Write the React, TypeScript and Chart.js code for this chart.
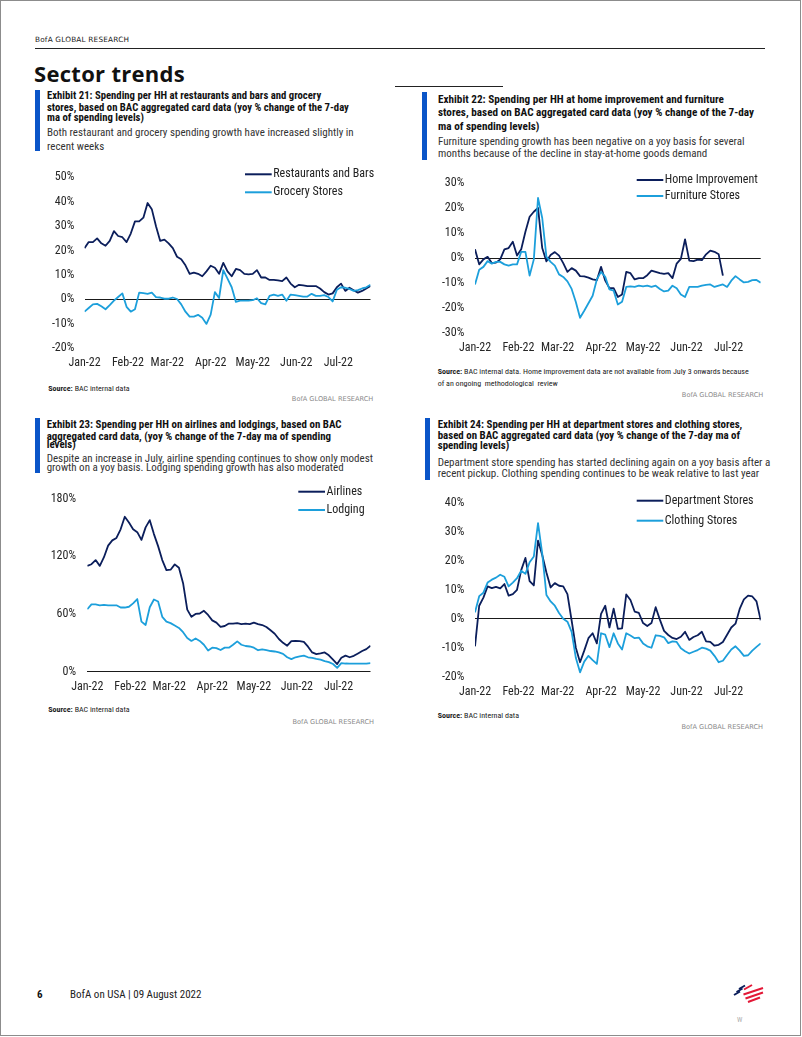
import React, { useEffect, useRef } from 'react';
import { Chart, registerables } from 'chart.js';

Chart.register(...registerables);

const FONT = '"Liberation Sans Narrow", "Roboto Condensed", Roboto, sans-serif';
const WIDE = '"DejaVu Sans", Verdana, sans-serif';
const NAVY = '#0b1e5b';
const LIGHT = '#1c9fdb';
const BAR_BLUE = '#0a55c8';
const TICK_COLOR = '#262626';

// x categories: month tick labels at month starts (day offset from 1 Jan 2022)
const MONTH_LABELS = ['Jan-22', 'Feb-22', 'Mar-22', 'Apr-22', 'May-22', 'Jun-22', 'Jul-22'];
const MONTH_DAYS = [0, 31, 59, 90, 120, 151, 181];

// sample dates (days since 1 Jan 2022, every third day)
const DAYS = [0, 3, 6, 9, 12, 15, 18, 21, 24, 27, 30, 33, 36, 39, 42, 45, 48, 51, 54, 57, 60, 63, 66, 69, 72, 75, 78, 81, 84, 87, 90, 93, 96, 99, 102, 105, 108, 111, 114, 117, 120, 123, 126, 129, 132, 135, 138, 141, 144, 147, 150, 153, 156, 159, 162, 165, 168, 171, 174, 177, 180, 183, 186, 189, 192, 195, 198, 201, 204];

// Exhibit 21
const RESTAURANTS = [21, 23.5, 23.5, 25, 23, 22, 24, 28, 26, 25.5, 23.5, 27, 32, 32, 33.5, 39.5, 37, 30, 24, 24.5, 23, 21, 17.5, 16.5, 14, 10.5, 11, 10.5, 9.5, 11.5, 13.8, 13, 10.5, 15, 11.5, 9.5, 12.5, 12, 10.5, 10.3, 10.5, 12, 9, 9, 8, 8, 7.8, 7.5, 9, 6.5, 5, 6, 5.8, 5.5, 5.5, 5.5, 4.5, 3, 2, 2.5, 5, 6.5, 3.5, 4.8, 3.8, 2.8, 3.5, 4.5, 5.5];
const GROCERY = [-5, -3.5, -2, -1.8, -2.8, -4, -2.3, -0.5, 1, 2.5, -3, -5, -4, 2.8, 2.6, 2.3, 2.8, 1, 0.8, 0.3, 0.3, 0.8, 0.2, -2, -5, -7, -7, -6.3, -7.5, -10, -6.2, 3, 0.6, 12, 8.5, 5, -1, -0.5, -0.5, -0.5, -0.3, 0.5, -1.5, -2, 1.5, 2, 1.5, 2, -0.5, 2, 1.8, 1.5, 1.2, 1.2, 2.3, 1.5, 1.5, 1.8, 1, -0.8, 4, 5, 4.8, 4.3, 3.5, 3.8, 4.5, 5, 6];

// Exhibit 22
const HOME_IMPROVEMENT = [3.5, -2.5, -0.5, 0.5, -2, -1.8, -0.5, 3.5, 4, 6.5, 1, 3.5, 10.5, 16.5, 18.5, 20, 4, -1.3, 1.2, 2.4, 1, -2, -5.5, -4, -5, -7.2, -7.3, -7.8, -8.5, -8.8, -3.5, -9, -12, -12, -15.5, -14.5, -5.5, -6, -8.5, -8, -8, -6.8, -5, -5.5, -6, -6.3, -6, -8, -2.2, -0.3, 7.5, -1, -1.2, -0.6, -0.8, 1.5, 3, 2.5, 1.5, -7];
const FURNITURE = [-10.5, -4.6, -3.5, -1.2, -2.2, -1.5, -1.5, -2.5, -3, -2.5, -2.5, 2.5, 2.5, -7, -0.5, 24, 16, 0.5, -1.5, -3, -6.5, -7.5, -9.3, -12.3, -17.5, -23.8, -21, -18, -15, -8.5, -5.5, -7.5, -12.5, -13, -18.5, -17.4, -11.5, -11.3, -11.5, -11, -11.3, -11, -11.5, -11, -12.3, -13.3, -13, -11, -12, -14.5, -15.5, -11.5, -11.5, -11.5, -11, -10.7, -10.5, -11.5, -11, -10.5, -11.5, -9, -7.2, -8.5, -9.7, -9.5, -8.8, -8.7, -9.8];

// Exhibit 23
const AIRLINES = [110, 111.7, 116, 110, 119, 131, 136.5, 139, 148, 161, 155, 148, 145, 137, 150, 157.5, 143, 130.5, 116, 105.5, 106, 111.5, 108, 92, 64.5, 57, 60, 60.5, 63.3, 59, 53.3, 51, 46.7, 47.5, 50, 50, 50.5, 49.5, 50, 49.5, 51, 49.5, 48.5, 46.5, 43, 39.5, 34, 30, 27, 31.7, 32, 31.7, 31, 26, 20, 18.3, 19, 20, 17, 12.5, 8, 14.5, 16.7, 15, 16.5, 19, 21.5, 23.5, 27];
const LODGING = [65, 70, 70, 69, 69.5, 69, 69, 69, 66.7, 66.7, 67.5, 71, 75.5, 52, 48.5, 67, 75, 73, 57, 52, 50.5, 48, 45.5, 41, 35, 32, 34.5, 32, 28, 22, 25, 24.5, 22.5, 25, 25, 28, 31.5, 28, 26.7, 26.2, 25, 22.3, 23.3, 22.5, 21.5, 21, 20, 18.5, 15, 13, 15, 16, 16.7, 15, 14.3, 13.3, 12.5, 11, 10, 8, 4, 9, 8.5, 8.3, 8.3, 8.3, 8.3, 8.3, 9];

// Exhibit 24
const DEPARTMENT = [-9.5, 4.5, 7.3, 11.2, 10.6, 11, 10.5, 12, 8, 8.5, 10, 16.8, 21, 13, 11.5, 27, 22, 16, 10.8, 12.3, 11.4, 11.2, 8.5, -0.6, -10, -15, -11, -6.7, -5, -8.5, 1.7, 4.5, -3, 3.5, -3.5, -3.3, 8.4, 6.5, 2.5, 2, -1.5, -2.5, -1.5, 4, -0.3, -4.2, -5.6, -6.6, -7, -6.2, -4.5, -7.3, -6.3, -5.7, -4.5, -7.8, -8, -9.3, -9, -8, -5.5, -3, -1.7, 3.4, 6.7, 8, 7.7, 6, -0.5];
const CLOTHING = [2.2, 7.8, 9, 12.5, 13.5, 14.2, 15.2, 14.5, 11.2, 12.5, 14, 16.6, 15.5, 19.5, 21.5, 33, 22.5, 8.2, 6, 4.5, 2, 0, -1, -4.5, -13.5, -18.5, -14.8, -12.8, -14.3, -15.6, -5, -5.5, -9.8, -5, -8.5, -10.6, -5, -5.8, -6.7, -6.5, -8.5, -9.5, -10, -5.7, -5.9, -6.4, -8.4, -7.8, -8, -10.2, -11.2, -12, -11.4, -10.8, -10, -10.3, -11, -12.8, -15, -14.5, -12.5, -10.6, -9.5, -11, -12.8, -12.6, -11, -9.7, -8.5];

type Box = { left: number; top: number; width: number; height: number };
type Area = { left: number; right: number; top: number; bottom: number };
type Series = { label: string; values: number[]; color: string };
type LegendCfg = { x: number; y: number; dy: number; len: number };

const XH = 25;

function LineChart(props: {
  box: Box; area: Area; yMin: number; yMax: number; yStep: number;
  series: Series[]; legend: LegendCfg; yPad: number; xPad: number;
}) {
  const ref = useRef<HTMLCanvasElement>(null);
  useEffect(() => {
    const { box, area, yMin, yMax, yStep, series, legend, yPad, xPad } = props;
    const canvas = ref.current!;
    const legendPlugin = {
      id: 'pageLegend',
      afterDraw(chart: any) {
        const ctx = chart.ctx as CanvasRenderingContext2D;
        ctx.save();
        chart.data.datasets.forEach((ds: any, i: number) => {
          const y = legend.y - box.top + i * legend.dy;
          const x0 = legend.x - box.left;
          ctx.strokeStyle = ds.borderColor;
          ctx.lineWidth = 2;
          ctx.beginPath();
          ctx.moveTo(x0, y);
          ctx.lineTo(x0 + legend.len, y);
          ctx.stroke();
          ctx.fillStyle = '#222';
          ctx.font = `12px ${FONT}`;
          ctx.textBaseline = 'middle';
          ctx.textAlign = 'left';
          ctx.fillText(ds.label, x0 + legend.len + 1.5, y);
        });
        ctx.restore();
      },
    };
    const chart = new Chart(canvas, {
      type: 'line',
      data: {
        datasets: series.map((s, i) => ({
          label: s.label,
          data: s.values.map((v, j) => ({ x: DAYS[j], y: v })),
          borderColor: s.color,
          backgroundColor: s.color,
          borderWidth: 1.8,
          borderJoinStyle: 'round' as const,
          pointRadius: 0,
          tension: 0,
          fill: false,
          order: i === 0 ? 1 : 0,
        })),
      },
      options: {
        responsive: false,
        maintainAspectRatio: false,
        animation: false,
        events: [],
        layout: {
          padding: {
            left: 0,
            top: area.top - box.top,
            right: box.left + box.width - area.right,
            bottom: box.top + box.height - area.bottom - XH,
          },
        },
        plugins: { legend: { display: false }, tooltip: { enabled: false } },
        scales: {
          x: {
            type: 'linear',
            min: 0,
            max: 204,
            afterFit: (s: any) => { s.height = XH; },
            afterBuildTicks: (s: any) => { s.ticks = MONTH_DAYS.map((v) => ({ value: v })); },
            ticks: {
              autoSkip: false,
              maxRotation: 0,
              padding: xPad,
              color: TICK_COLOR,
              font: { family: FONT, size: 12 },
              callback: (v: any) => {
                const i = MONTH_DAYS.indexOf(Number(v));
                return i >= 0 ? MONTH_LABELS[i] : '';
              },
            },
            grid: { display: false, drawTicks: false },
            border: { display: false },
          },
          y: {
            min: yMin,
            max: yMax,
            afterFit: (s: any) => { s.width = area.left - box.left; },
            ticks: {
              stepSize: yStep,
              padding: yPad,
              color: TICK_COLOR,
              font: { family: FONT, size: 12 },
              callback: (v: any) => `${v}%`,
            },
            grid: {
              drawTicks: false,
              lineWidth: 1,
              color: (ctx: any) => (ctx.tick && ctx.tick.value === 0 ? '#1a1a1a' : 'rgba(0,0,0,0)'),
            },
            border: { display: false },
          },
        },
      },
      plugins: [legendPlugin],
    } as any);
    return () => chart.destroy();
  }, []);
  const { box } = props;
  return (
    <canvas
      ref={ref}
      width={box.width}
      height={box.height}
      style={{ position: 'absolute', left: box.left, top: box.top, width: box.width, height: box.height }}
    />
  );
}

type TProps = {
  x: number; y: number; size: number; children: React.ReactNode;
  bold?: boolean; color?: string; family?: string; right?: boolean; ls?: number;
};

function T({ x, y, size, children, bold, color, family, right, ls }: TProps) {
  const style: React.CSSProperties = {
    position: 'absolute',
    top: y - size * 0.6,
    fontSize: size,
    lineHeight: `${size * 1.2}px`,
    whiteSpace: 'nowrap',
    fontFamily: family || FONT,
    fontWeight: bold ? 700 : 400,
    color: color || '#111',
    letterSpacing: ls ? `${ls}px` : undefined,
  };
  if (right) style.right = 802 - x; else style.left = x;
  return <div style={style}>{children}</div>;
}

function Bar({ x, y1, y2 }: { x: number; y1: number; y2: number }) {
  return <div style={{ position: 'absolute', left: x, top: y1, width: 5, height: y2 - y1, background: BAR_BLUE }} />;
}

function Exhibit({ x, lines, subs, size = 10.9 }: { x: number; lines: [string, number][]; subs: [string, number][]; size?: number }) {
  return (
    <>
      {lines.map(([t, y], i) => (
        <T key={'l' + i} x={x} y={y} size={size} bold color="#111">{t}</T>
      ))}
      {subs.map(([t, y], i) => (
        <T key={'s' + i} x={x} y={y} size={11} color="#333">{t}</T>
      ))}
    </>
  );
}

function Source({ x, y, text }: { x: number; y: number; text: string }) {
  return (
    <T x={x} y={y} size={8} color="#222">
      <b>Source:</b>
      {' ' + text}
    </T>
  );
}

function Credit({ x, y }: { x: number; y: number }) {
  return (
    <T x={x} y={y} size={6.6} color="#8a8a8a" family={WIDE} right>
      BofA GLOBAL RESEARCH
    </T>
  );
}

export default function App() {
  useEffect(() => {
    document.body.style.margin = '0';
  }, []);
  return (
    <div style={{ position: 'absolute', left: 0, top: 0, width: 802, height: 1037, overflow: 'hidden', background: '#fff' }}>
      <div style={{ position: 'absolute', left: 0, top: 0, width: 801, height: 1036, border: '1.5px solid #8c8c8c', boxSizing: 'border-box' }} />

      <T x={35} y={40.5} size={7.3} family={WIDE} color="#222" ls={0.2}>BofA GLOBAL RESEARCH</T>
      <div style={{ position: 'absolute', left: 35, top: 48, width: 730, height: 1, background: '#222' }} />
      <div style={{ position: 'absolute', left: 395, top: 86, width: 108, height: 1, background: '#222' }} />
      <div style={{ position: 'absolute', left: 34, top: 57.5, fontFamily: '"Open Sans", Lato, sans-serif', fontWeight: 700, fontSize: 22, lineHeight: '30px', color: '#111', whiteSpace: 'nowrap', letterSpacing: '0.3px' }}>
        Sector trends
      </div>

      <Bar x={35} y1={89.7} y2={151.5} />
      <Exhibit
        x={47}
        size={10.7}
        lines={[
          ['Exhibit 21: Spending per HH at restaurants and bars and grocery', 96.5],
          ['stores, based on BAC aggregated card data (yoy % change of the 7-day', 108],
          ['ma of spending levels)', 118],
        ]}
        subs={[
          ['Both restaurant and grocery spending growth have increased slightly in', 133],
          ['recent weeks', 146.3],
        ]}
      />
      <LineChart
        box={{ left: 20, top: 160, width: 360, height: 215 }}
        area={{ left: 84.5, right: 370.5, top: 170, bottom: 348.3 }}
        yMin={-20} yMax={50} yStep={10} yPad={10.2} xPad={7.5}
        series={[
          { label: 'Restaurants and Bars', values: RESTAURANTS, color: NAVY },
          { label: 'Grocery Stores', values: GROCERY, color: LIGHT },
        ]}
        legend={{ x: 245, y: 174.3, dy: 18, len: 26.7 }}
      />
      <Source x={48.3} y={388.3} text="BAC internal data" />
      <Credit x={373.3} y={400} />

      <Bar x={422} y1={92} y2={159.7} />
      <Exhibit
        x={438}
        size={11.2}
        lines={[
          ['Exhibit 22: Spending per HH at home improvement and furniture', 99.5],
          ['stores, based on BAC aggregated card data (yoy % change of the 7-day', 113],
          ['ma of spending levels)', 126.3],
        ]}
        subs={[
          ['Furniture spending growth has been negative on a yoy basis for several', 141.3],
          ['months because of the decline in stay-at-home goods demand', 153.3],
        ]}
      />
      <LineChart
        box={{ left: 415, top: 165, width: 385, height: 200 }}
        area={{ left: 475, right: 760.7, top: 176.7, bottom: 333.3 }}
        yMin={-30} yMax={30} yStep={10} yPad={10.7} xPad={7.8}
        series={[
          { label: 'Home Improvement', values: HOME_IMPROVEMENT, color: NAVY },
          { label: 'Furniture Stores', values: FURNITURE, color: LIGHT },
        ]}
        legend={{ x: 636.7, y: 180, dy: 16, len: 26.6 }}
      />
      <Source x={437.7} y={371.7} text="BAC internal data. Home improvement data are not available from July 3 onwards because" />
      <T x={437.7} y={384} size={8} color="#222">of an ongoing&nbsp; methodological&nbsp; review</T>
      <Credit x={763.3} y={396} />

      <Bar x={35} y1={418} y2={473} />
      <Exhibit
        x={46.7}
        lines={[
          ['Exhibit 23: Spending per HH on airlines and lodgings, based on BAC', 425],
          ['aggregated card data, (yoy % change of the 7-day ma of spending', 436.5],
          ['levels)', 444.5],
        ]}
        subs={[
          ['Despite an increase in July, airline spending continues to show only modest', 458.3],
          ['growth on a yoy basis. Lodging spending growth has also moderated', 467.3],
        ]}
      />
      <LineChart
        box={{ left: 20, top: 480, width: 360, height: 220 }}
        area={{ left: 87.3, right: 370.5, top: 491.7, bottom: 671.7 }}
        yMin={0} yMax={180} yStep={60} yPad={11.3} xPad={7.8}
        series={[
          { label: 'Airlines', values: AIRLINES, color: NAVY },
          { label: 'Lodging', values: LODGING, color: LIGHT },
        ]}
        legend={{ x: 298.3, y: 491.7, dy: 18.3, len: 26.7 }}
      />
      <Source x={48.3} y={710} text="BAC internal data" />
      <Credit x={374} y={722.7} />

      <Bar x={425} y1={418} y2={480} />
      <Exhibit
        x={437.7}
        lines={[
          ['Exhibit 24: Spending per HH at department stores and clothing stores,', 425],
          ['based on BAC aggregated card data (yoy % change of the 7-day ma of', 436],
          ['spending levels)', 446],
        ]}
        subs={[
          ['Department store spending has started declining again on a yoy basis after a', 462.7],
          ['recent pickup. Clothing spending continues to be weak relative to last year', 474],
        ]}
      />
      <LineChart
        box={{ left: 415, top: 485, width: 385, height: 220 }}
        area={{ left: 475, right: 760.7, top: 497.3, bottom: 676.7 }}
        yMin={-20} yMax={40} yStep={10} yPad={10.7} xPad={7.8}
        series={[
          { label: 'Department Stores', values: DEPARTMENT, color: NAVY },
          { label: 'Clothing Stores', values: CLOTHING, color: LIGHT },
        ]}
        legend={{ x: 636.7, y: 500.7, dy: 20, len: 26.6 }}
      />
      <Source x={437.7} y={716} text="BAC internal data" />
      <Credit x={763} y={727.5} />

      <T x={37} y={995} size={11} bold color="#111">6</T>
      <T x={70} y={995} size={11} color="#222">BofA on USA | 09 August 2022</T>
      <svg style={{ position: 'absolute', left: 730, top: 982 }} width={36} height={24} viewBox="730 982 36 24">
        <g strokeWidth={2} strokeLinecap="butt">
          <line x1={734} y1={995} x2={740} y2={991.5} stroke={NAVY} />
          <line x1={736.5} y1={992} x2={742.5} y2={988.5} stroke={NAVY} />
          <line x1={739} y1={989} x2={745} y2={985.5} stroke={NAVY} />
          <line x1={744} y1={989.5} x2={752} y2={985} stroke="#e31837" />
          <line x1={743.5} y1={994.5} x2={763} y2={988} stroke="#e31837" />
          <line x1={745.5} y1={998.5} x2={763} y2={992.5} stroke="#e31837" />
          <line x1={748} y1={1002} x2={760} y2={997.5} stroke="#e31837" />
        </g>
      </svg>
      <T x={737} y={1020} size={7} color="#aaa">W</T>
    </div>
  );
}
